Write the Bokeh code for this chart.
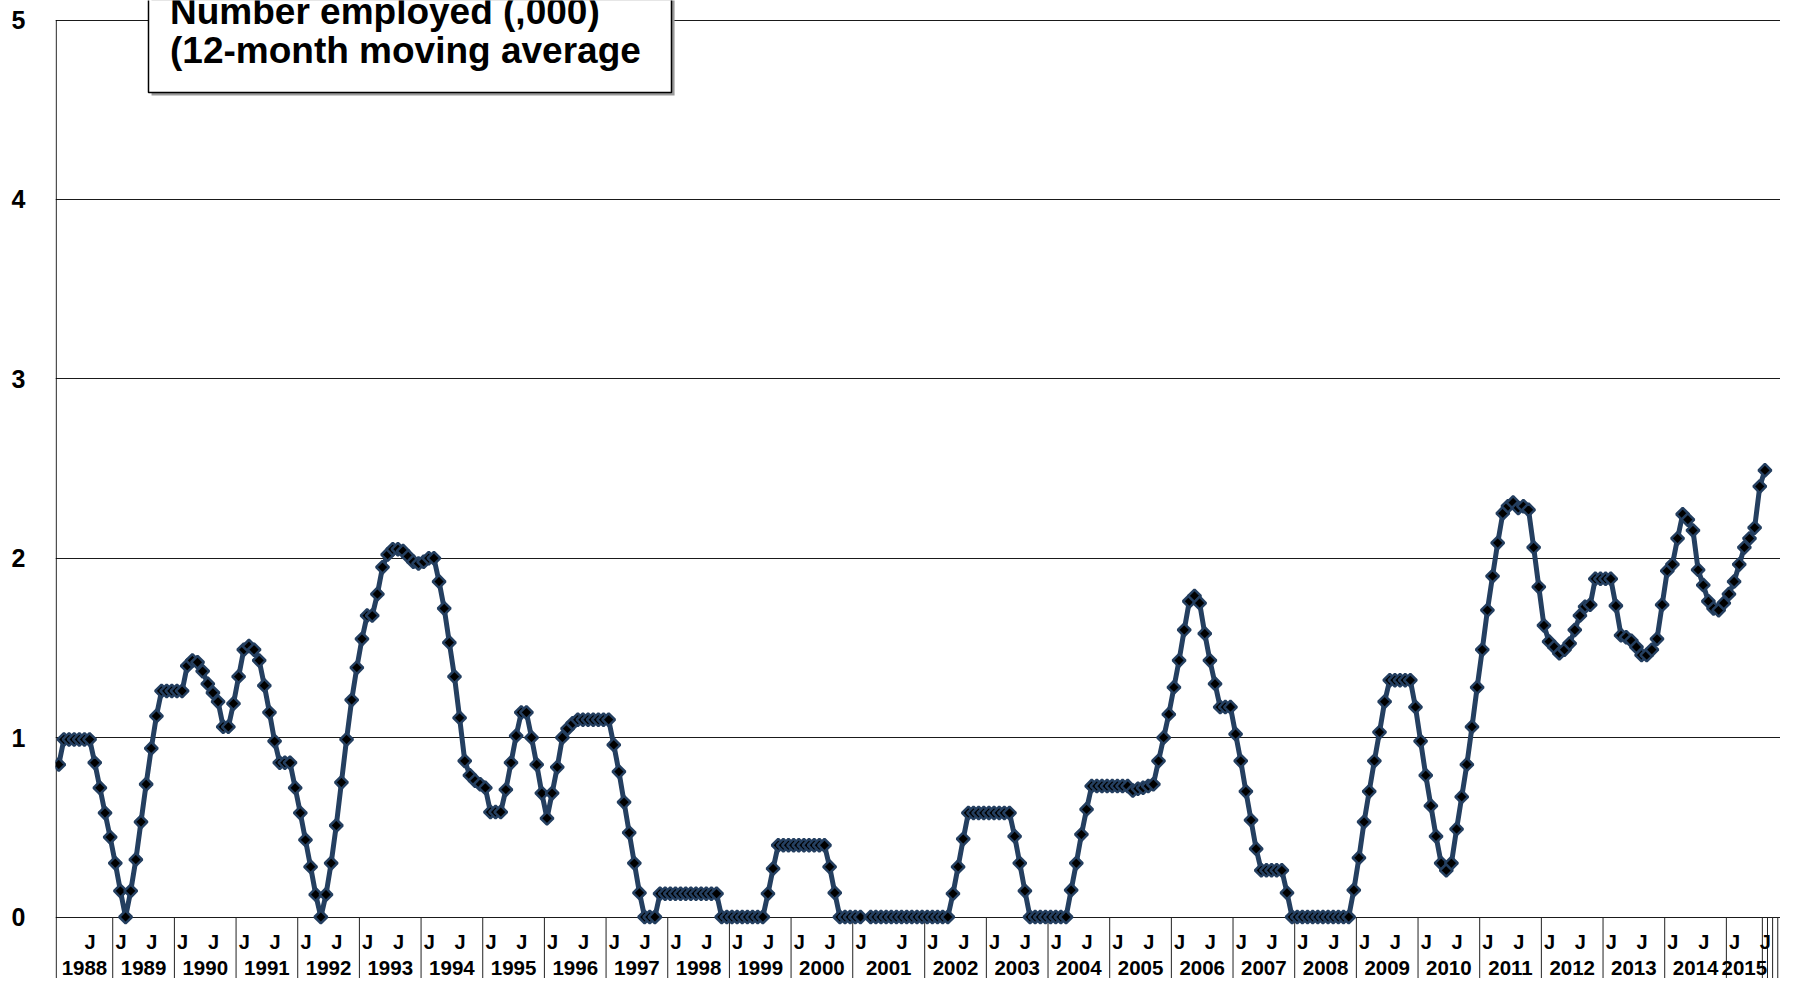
import math
from bokeh.plotting import figure
from bokeh.models import Range1d, FixedTicker, ColumnDataSource
from bokeh.core.properties import value
from bokeh.embed import file_html
from bokeh.resources import INLINE

NAVY = "#243F60"
FONT = "Liberation Sans"

# ---------------- categories / tick labels ----------------
years = ["1988", "1989", "1990", "1991", "1992", "1993", "1994", "1995", "1996",
         "1997", "1998", "1999", "2000", "2001", "2002", "2003", "2004", "2005",
         "2006", "2007", "2008", "2009", "2010", "2011", "2012", "2013", "2014",
         "2015", "", "", "", "", ""]
group_sizes = [11, 12, 12, 12, 12, 12, 12, 12, 12, 12, 12, 12, 12, 14, 12, 12, 12, 12,
               12, 12, 12, 12, 12, 12, 12, 12, 12, 7, 1, 1, 1, 1, 1]
# position (within each year group) of the "J" (January / July) labels
j_offsets = [[5]] + [[0, 6]] * 12 + [[0, 8]] + [[0, 6]] * 14 + [[], [], [], [], []]

# ---------------- series values: number employed (,000), 12-month moving average ----------------
v1988 = [0.85, 0.99, 0.99, 0.99, 0.99, 0.99, 0.99, 0.86, 0.72, 0.58, 0.445]
v1989 = [0.30, 0.145, 0.0, 0.145, 0.32, 0.53, 0.74, 0.94, 1.12, 1.26, 1.26, 1.26]
v1990 = [1.26, 1.26, 1.40, 1.43, 1.42, 1.37, 1.30, 1.25, 1.20, 1.06, 1.06, 1.19]
v1991 = [1.34, 1.49, 1.51, 1.49, 1.43, 1.29, 1.14, 0.98, 0.86, 0.86, 0.86, 0.72]
v1992 = [0.58, 0.43, 0.28, 0.125, 0.0, 0.125, 0.30, 0.51, 0.75, 0.99, 1.21, 1.39]
v1993 = [1.55, 1.68, 1.68, 1.80, 1.95, 2.02, 2.05, 2.05, 2.04, 2.01, 1.98, 1.97]
v1994 = [1.98, 2.00, 2.00, 1.87, 1.72, 1.53, 1.34, 1.11, 0.87, 0.79, 0.76, 0.74]
v1995 = [0.72, 0.585, 0.585, 0.585, 0.71, 0.86, 1.01, 1.14, 1.14, 1.00, 0.85, 0.69]
v1996 = [0.55, 0.69, 0.835, 1.00, 1.05, 1.08, 1.10, 1.10, 1.10, 1.10, 1.10, 1.10]
v1997 = [1.10, 0.96, 0.81, 0.64, 0.47, 0.30, 0.135, 0.0, 0.0, 0.0, 0.13, 0.13]
v1998 = [0.13, 0.13, 0.13, 0.13, 0.13, 0.13, 0.13, 0.13, 0.13, 0.13, 0.0, 0.0]
v1999 = [0.0, 0.0, 0.0, 0.0, 0.0, 0.0, 0.0, 0.13, 0.27, 0.40, 0.40, 0.40]
v2000 = [0.40, 0.40, 0.40, 0.40, 0.40, 0.40, 0.40, 0.28, 0.135, 0.0, 0.0, 0.0]
v2001 = [0.0, 0.0, None, 0.0, 0.0, 0.0, 0.0, 0.0, 0.0, 0.0, 0.0, 0.0, 0.0, 0.0]
v2002 = [0.0, 0.0, 0.0, 0.0, 0.0, 0.13, 0.28, 0.435, 0.58, 0.58, 0.58, 0.58]
v2003 = [0.58, 0.58, 0.58, 0.58, 0.58, 0.45, 0.30, 0.145, 0.0, 0.0, 0.0, 0.0]
v2004 = [0.0, 0.0, 0.0, 0.0, 0.15, 0.30, 0.46, 0.60, 0.73, 0.73, 0.73, 0.73]
v2005 = [0.73, 0.73, 0.73, 0.73, 0.705, 0.715, 0.72, 0.73, 0.74, 0.87, 1.00, 1.13]
v2006 = [1.28, 1.43, 1.60, 1.76, 1.79, 1.75, 1.58, 1.43, 1.30, 1.17, 1.17, 1.17]
v2007 = [1.02, 0.87, 0.70, 0.54, 0.38, 0.26, 0.26, 0.26, 0.26, 0.26, 0.135, 0.0]
v2008 = [0.0, 0.0, 0.0, 0.0, 0.0, 0.0, 0.0, 0.0, 0.0, 0.0, 0.0, 0.15]
v2009 = [0.33, 0.53, 0.70, 0.87, 1.03, 1.20, 1.32, 1.32, 1.32, 1.32, 1.32, 1.17]
v2010 = [0.98, 0.79, 0.62, 0.45, 0.30, 0.26, 0.30, 0.49, 0.67, 0.85, 1.06, 1.28]
v2011 = [1.49, 1.71, 1.90, 2.085, 2.25, 2.29, 2.31, 2.28, 2.29, 2.27, 2.06, 1.84]
v2012 = [1.625, 1.535, 1.505, 1.47, 1.49, 1.525, 1.60, 1.68, 1.73, 1.74, 1.885, 1.885]
v2013 = [1.885, 1.885, 1.735, 1.57, 1.56, 1.54, 1.505, 1.46, 1.46, 1.49, 1.55, 1.74]
v2014 = [1.93, 1.965, 2.11, 2.245, 2.215, 2.155, 1.935, 1.85, 1.76, 1.72, 1.71, 1.75]
v2015 = [1.80, 1.87, 1.965, 2.06, 2.11, 2.17, 2.40]
v_after = [2.49]

series_by_group = [v1988, v1989, v1990, v1991, v1992, v1993, v1994, v1995, v1996,
                   v1997, v1998, v1999, v2000, v2001, v2002, v2003, v2004, v2005,
                   v2006, v2007, v2008, v2009, v2010, v2011, v2012, v2013, v2014,
                   v2015, v_after, [], [], [], []]

# ---------------- build positions from categories ----------------
starts = []
acc = 0
for n in group_sizes:
    starts.append(acc)
    acc += n
n_cats = acc

xs, ys = [], []
for s, vals in zip(starts, series_by_group):
    for k, v in enumerate(vals):
        xs.append(s + k + 0.5)
        ys.append(float("nan") if v is None else v)
src = ColumnDataSource(data=dict(x=xs, y=ys))

j_x = []
for s, offs in zip(starts, j_offsets):
    for o in offs:
        j_x.append(s + o + 0.5 + 1.1)
year_x = [s + n / 2.0 for s, n in zip(starts, group_sizes)]
bounds = starts[1:] + [n_cats]

# ---------------- figure ----------------
W, H = 1780, 978
LEFT = 55
CAT_PX = 5.139
X_START = -0.136
X_END = X_START + (W - LEFT) / CAT_PX
Y_BOTTOM = -0.3428
Y_TOP = 5.1087

p = figure(width=W, height=H,
           x_range=Range1d(X_START, X_END), y_range=Range1d(Y_BOTTOM, Y_TOP),
           output_backend="svg", toolbar_location=None, x_axis_location=None,
           min_border_left=LEFT, min_border_right=0, min_border_top=0, min_border_bottom=0)
p.outline_line_color = None
p.background_fill_color = "white"
p.border_fill_color = "white"
p.xgrid.visible = False
p.ygrid.ticker = FixedTicker(ticks=[0, 1, 2, 3, 4, 5])
p.ygrid.grid_line_color = "#1a1a1a"
p.ygrid.grid_line_width = 1

yax = p.yaxis[0]
yax.ticker = FixedTicker(ticks=[0, 1, 2, 3, 4, 5])
yax.axis_line_color = None
yax.major_tick_line_color = None
yax.minor_tick_line_color = None
yax.major_tick_out = 0
yax.major_tick_in = 0
yax.major_label_standoff = 30
yax.major_label_text_font = FONT
yax.major_label_text_font_style = "bold"
yax.major_label_text_font_size = "25px"
yax.major_label_text_color = "black"

# left axis line and category separators
p.segment(x0=[0], y0=[5], x1=[0], y1=[Y_BOTTOM], line_color="black", line_width=1)
p.segment(x0=bounds, y0=[0] * len(bounds), x1=bounds, y1=[Y_BOTTOM] * len(bounds),
          line_color="#222222", line_width=1)

# category labels
p.text(x=j_x, y=[-0.1394] * len(j_x), text=["J"] * len(j_x),
       text_font=value(FONT), text_font_style="bold", text_font_size=value("20px"),
       text_align="center", text_baseline="middle", text_color="black")
p.text(x=year_x, y=[-0.282] * len(year_x), text=years,
       text_font=value(FONT), text_font_style="bold", text_font_size=value("20.5px"),
       text_align="center", text_baseline="middle", text_color="black")

# series
p.line("x", "y", source=src, line_color=NAVY, line_width=5)
p.scatter("x", "y", source=src, marker="square", angle=math.pi / 4, size=9,
          fill_color="black", line_color=NAVY, line_width=2.5)

# title box
p.quad(left=[18.55], right=[120.33], bottom=[4.579], top=[5.4], fill_color="#9a9a9a", line_color=None)
p.quad(left=[17.96], right=[119.73], bottom=[4.596], top=[5.4], fill_color="white",
       line_color="black", line_width=1.5)
p.text(x=[22.14, 22.14], y=[5.0446, 4.8278],
       text=["Number employed (,000)", "(12-month moving average"],
       text_font=value(FONT), text_font_style="bold", text_font_size=value("37px"),
       text_align="left", text_baseline="middle", text_color="black")

open("out.html", "w").write(file_html(p, INLINE))
